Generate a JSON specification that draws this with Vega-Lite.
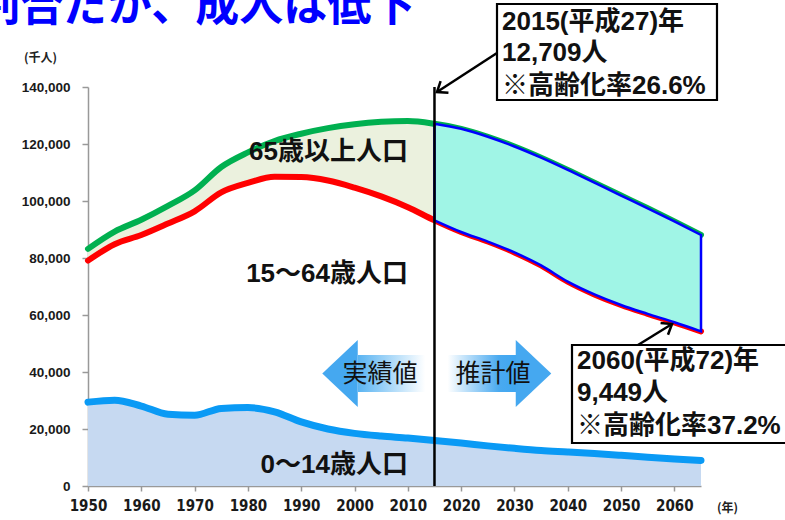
{
  "$schema": "https://vega.github.io/schema/vega-lite/v6.json",
  "width": 613,
  "height": 399,
  "autosize": {"type": "none"},
  "padding": {"left": 88, "top": 87, "right": 84, "bottom": 34},
  "background": "white",
  "config": {
    "view": {"stroke": null},
    "axisX": {
      "labelFlush": false, "labelExpr": "format(datum.value, 'd')", "grid": false,
      "labelFont": "Liberation Sans Narrow, DejaVu Sans Condensed, sans-serif",
      "labelFontWeight": "bold", "labelFontSize": 15, "labelColor": "#1a1a1a", "labelPadding": 7,
      "tickSize": 5, "tickColor": "#999", "domainColor": "#999", "domainWidth": 1.5, "tickWidth": 1.5,
      "titleFont": "Noto Sans CJK JP", "titleFontSize": 12, "titleFontWeight": "bold", "titleColor": "#222"
    },
    "axisY": {
      "labelExpr": "format(datum.value, ',')", "grid": false,
      "labelFont": "Liberation Sans, sans-serif", "labelFontWeight": "bold",
      "labelFontSize": 13.5, "labelColor": "#1a1a1a", "labelPadding": 12,
      "tickSize": 6, "tickColor": "#999", "domainColor": "#999", "domainWidth": 1.5, "tickWidth": 1.5,
      "titleFont": "Noto Sans CJK JP", "titleFontSize": 12, "titleFontWeight": "bold", "titleColor": "#222"
    }
  },
  "datasets": {
    "pop": [
      {"year": 1950, "u14": 29428, "u65": 79086, "total": 83200},
      {"year": 1955, "u14": 30123, "u65": 84852, "total": 89276},
      {"year": 1960, "u14": 28067, "u65": 88069, "total": 93419},
      {"year": 1965, "u14": 25166, "u65": 92094, "total": 98275},
      {"year": 1970, "u14": 24823, "u65": 96389, "total": 103720},
      {"year": 1975, "u14": 27221, "u65": 103028, "total": 111940},
      {"year": 1980, "u14": 27507, "u65": 106342, "total": 117060},
      {"year": 1985, "u14": 26033, "u65": 108539, "total": 121049},
      {"year": 1990, "u14": 22486, "u65": 108390, "total": 123611},
      {"year": 1995, "u14": 20014, "u65": 107179, "total": 125570},
      {"year": 2000, "u14": 18472, "u65": 104692, "total": 126926},
      {"year": 2005, "u14": 17521, "u65": 101613, "total": 127768},
      {"year": 2010, "u14": 16803, "u65": 97835, "total": 128057},
      {"year": 2015, "u14": 15945, "u65": 93227, "total": 127095},
      {"year": 2020, "u14": 15075, "u65": 89133, "total": 125325},
      {"year": 2025, "u14": 14073, "u65": 85774, "total": 122544},
      {"year": 2030, "u14": 13212, "u65": 81966, "total": 119125},
      {"year": 2035, "u14": 12457, "u65": 77399, "total": 115216},
      {"year": 2040, "u14": 11936, "u65": 71713, "total": 110919},
      {"year": 2045, "u14": 11384, "u65": 67229, "total": 106421},
      {"year": 2050, "u14": 10767, "u65": 63517, "total": 101923},
      {"year": 2055, "u14": 10123, "u65": 60399, "total": 97441},
      {"year": 2060, "u14": 9508, "u65": 57436, "total": 92840},
      {"year": 2065, "u14": 8975, "u65": 54266, "total": 88077}
    ],
    "body": [{"x": 2000.65, "x2": 2030.67, "y": 45965, "y2": 32982}],
    "heads": [
      {"x": 1997.28, "y": 39474, "dir": "left"},
      {"x": 2033.58, "y": 39474, "dir": "right"}
    ],
    "split": [{"x": 2015, "y": 140000, "y2": 0}],
    "arrowtext": [
      {"x": 2004.78, "y": 39298, "text": "実績値"},
      {"x": 2025.98, "y": 39298, "text": "推計値"}
    ],
    "cats": [
      {"x": 2010.03, "y": 117193, "text": "65歳以上人口"},
      {"x": 2010.03, "y": 74386, "text": "15～64歳人口"},
      {"x": 2010.03, "y": 7368, "text": "0～14歳人口"}
    ],
    "boxes": [
      {"x": 2026.73, "x2": 2068.0, "y": 169123, "y2": 135439},
      {"x": 2040.8, "x2": 2085.0, "y": 49474, "y2": 15088}
    ],
    "boxtext": [
      {"x": 2027.67, "y": 162807, "text": "2015(平成27)年"},
      {"x": 2027.67, "y": 151930, "text": "12,709人"},
      {"x": 2027.67, "y": 140351, "text": "※高齢化率26.6%"},
      {"x": 2041.74, "y": 43860, "text": "2060(平成72)年"},
      {"x": 2041.74, "y": 32632, "text": "9,449人"},
      {"x": 2041.74, "y": 21053, "text": "※高齢化率37.2%"}
    ],
    "pointers": [
      {"id": "a", "x": 2026.73, "y": 151930, "x2": 2015.47, "y2": 138246},
      {"id": "b", "x": 2053.18, "y": 49474, "x2": 2059.56, "y2": 56842}
    ],
    "title": [{"x": 1929.0, "y": 163158, "text": "割合だが、成人は低下"}]
  },
  "layer": [
    {
      "data": {"name": "pop"},
      "mark": {"type": "area", "color": "#c6d9f1", "interpolate": "monotone"},
      "encoding": {
        "x": {
          "field": "year", "type": "quantitative",
          "scale": {"domain": [1950, 2065], "nice": false, "zero": false},
          "axis": {
            "values": [1950, 1960, 1970, 1980, 1990, 2000, 2010, 2020, 2030, 2040, 2050, 2060],
            "title": "(年)", "titleAngle": 0, "titleX": 639, "titleY": 21,
            "titleAlign": "center", "titleBaseline": "middle"
          }
        },
        "y": {
          "field": "u14", "type": "quantitative",
          "scale": {"domain": [0, 140000], "nice": false},
          "axis": {
            "values": [0, 20000, 40000, 60000, 80000, 100000, 120000, 140000],
            "title": "(千人)", "titleAngle": 0, "titleX": -48, "titleY": -30,
            "titleAlign": "center", "titleBaseline": "middle"
          }
        }
      }
    },
    {
      "data": {"name": "pop"},
      "transform": [{"filter": "datum.year <= 2015"}],
      "mark": {"type": "area", "color": "#ebf1de", "interpolate": "monotone"},
      "encoding": {
        "x": {"field": "year", "type": "quantitative"},
        "y": {"field": "total", "type": "quantitative"},
        "y2": {"field": "u65"}
      }
    },
    {
      "data": {"name": "pop"},
      "mark": {"type": "line", "color": "#00b050", "strokeWidth": 6, "strokeCap": "round", "interpolate": "monotone"},
      "encoding": {
        "x": {"field": "year", "type": "quantitative"},
        "y": {"field": "total", "type": "quantitative"}
      }
    },
    {
      "data": {"name": "pop"},
      "mark": {"type": "line", "color": "#ff0000", "strokeWidth": 6, "strokeCap": "round", "interpolate": "monotone"},
      "encoding": {
        "x": {"field": "year", "type": "quantitative"},
        "y": {"field": "u65", "type": "quantitative"}
      }
    },
    {
      "data": {"name": "pop"},
      "transform": [{"filter": "datum.year >= 2015"}],
      "mark": {"type": "area", "fill": "#a0f5e6", "fillOpacity": 1, "stroke": "#0000ff", "strokeWidth": 2.5, "interpolate": "monotone"},
      "encoding": {
        "x": {"field": "year", "type": "quantitative"},
        "y": {"field": "total", "type": "quantitative"},
        "y2": {"field": "u65"}
      }
    },
    {
      "data": {"name": "pop"},
      "mark": {"type": "line", "color": "#0a9af5", "strokeWidth": 7, "strokeCap": "round", "interpolate": "monotone"},
      "encoding": {
        "x": {"field": "year", "type": "quantitative"},
        "y": {"field": "u14", "type": "quantitative"}
      }
    },
    {
      "data": {"name": "body"},
      "mark": {
        "type": "rect",
        "fill": {
          "gradient": "linear", "x1": 0, "x2": 1, "y1": 0, "y2": 0,
          "stops": [
            {"offset": 0, "color": "#5ab4f2"},
            {"offset": 0.42, "color": "#ffffff"},
            {"offset": 0.56, "color": "#ffffff"},
            {"offset": 0.88, "color": "#4aaaf0"},
            {"offset": 1, "color": "#3ea6f2"}
          ]
        }
      },
      "encoding": {
        "x": {"field": "x", "type": "quantitative"},
        "x2": {"field": "x2"},
        "y": {"field": "y", "type": "quantitative"},
        "y2": {"field": "y2"}
      }
    },
    {
      "data": {"name": "heads"},
      "transform": [{"filter": "datum.dir == 'left'"}],
      "mark": {"type": "point", "shape": "M -0.53 0 L 0.53 -1 L 0.53 1 Z", "size": 4489, "filled": true, "fill": "#45a8f0", "opacity": 1, "strokeWidth": 0},
      "encoding": {
        "x": {"field": "x", "type": "quantitative"},
        "y": {"field": "y", "type": "quantitative"}
      }
    },
    {
      "data": {"name": "heads"},
      "transform": [{"filter": "datum.dir == 'right'"}],
      "mark": {"type": "point", "shape": "M 0.53 0 L -0.53 -1 L -0.53 1 Z", "size": 4489, "filled": true, "fill": "#45a8f0", "opacity": 1, "strokeWidth": 0},
      "encoding": {
        "x": {"field": "x", "type": "quantitative"},
        "y": {"field": "y", "type": "quantitative"}
      }
    },
    {
      "data": {"name": "split"},
      "mark": {"type": "rule", "color": "#000000", "strokeWidth": 2.5},
      "encoding": {
        "x": {"field": "x", "type": "quantitative"},
        "y": {"field": "y", "type": "quantitative"},
        "y2": {"field": "y2"}
      }
    },
    {
      "data": {"name": "arrowtext"},
      "mark": {"type": "text", "font": "Noto Sans CJK JP", "fontSize": 25, "fontWeight": "normal", "color": "#111", "align": "center", "baseline": "middle"},
      "encoding": {
        "x": {"field": "x", "type": "quantitative"},
        "y": {"field": "y", "type": "quantitative"},
        "text": {"field": "text"}
      }
    },
    {
      "data": {"name": "cats"},
      "mark": {"type": "text", "font": "Liberation Sans, Noto Sans CJK JP, sans-serif", "fontSize": 26, "fontWeight": "bold", "color": "#111", "align": "right", "baseline": "middle"},
      "encoding": {
        "x": {"field": "x", "type": "quantitative"},
        "y": {"field": "y", "type": "quantitative"},
        "text": {"field": "text"}
      }
    },
    {
      "data": {"name": "boxes"},
      "mark": {"type": "rect", "fill": "#ffffff", "stroke": "#000000", "strokeWidth": 2.2},
      "encoding": {
        "x": {"field": "x", "type": "quantitative"},
        "x2": {"field": "x2"},
        "y": {"field": "y", "type": "quantitative"},
        "y2": {"field": "y2"}
      }
    },
    {
      "data": {"name": "boxtext"},
      "mark": {"type": "text", "font": "Liberation Sans, Noto Sans CJK JP, sans-serif", "fontSize": 26, "fontWeight": "bold", "color": "#111", "align": "left", "baseline": "middle"},
      "encoding": {
        "x": {"field": "x", "type": "quantitative"},
        "y": {"field": "y", "type": "quantitative"},
        "text": {"field": "text"}
      }
    },
    {
      "data": {"name": "pointers"},
      "mark": {"type": "rule", "color": "#000000", "strokeWidth": 2.5},
      "encoding": {
        "x": {"field": "x", "type": "quantitative"},
        "y": {"field": "y", "type": "quantitative"},
        "x2": {"field": "x2"},
        "y2": {"field": "y2"}
      }
    },
    {
      "data": {"name": "pointers"},
      "transform": [{"filter": "datum.id == 'a'"}],
      "mark": {"type": "point", "shape": "M -1 1.3 L 0 0 L 1 1.3", "size": 196, "filled": false, "stroke": "#000000", "strokeWidth": 2.5, "opacity": 1, "angle": 236},
      "encoding": {
        "x": {"field": "x2", "type": "quantitative"},
        "y": {"field": "y2", "type": "quantitative"}
      }
    },
    {
      "data": {"name": "pointers"},
      "transform": [{"filter": "datum.id == 'b'"}],
      "mark": {"type": "point", "shape": "M -1 1.3 L 0 0 L 1 1.3", "size": 196, "filled": false, "stroke": "#000000", "strokeWidth": 2.5, "opacity": 1, "angle": 58},
      "encoding": {
        "x": {"field": "x2", "type": "quantitative"},
        "y": {"field": "y2", "type": "quantitative"}
      }
    },
    {
      "data": {"name": "title"},
      "mark": {"type": "text", "font": "Noto Sans CJK JP", "fontSize": 44, "fontWeight": "bold", "color": "#0000ff", "align": "left", "baseline": "alphabetic"},
      "encoding": {
        "x": {"field": "x", "type": "quantitative"},
        "y": {"field": "y", "type": "quantitative"},
        "text": {"field": "text"}
      }
    }
  ]
}
